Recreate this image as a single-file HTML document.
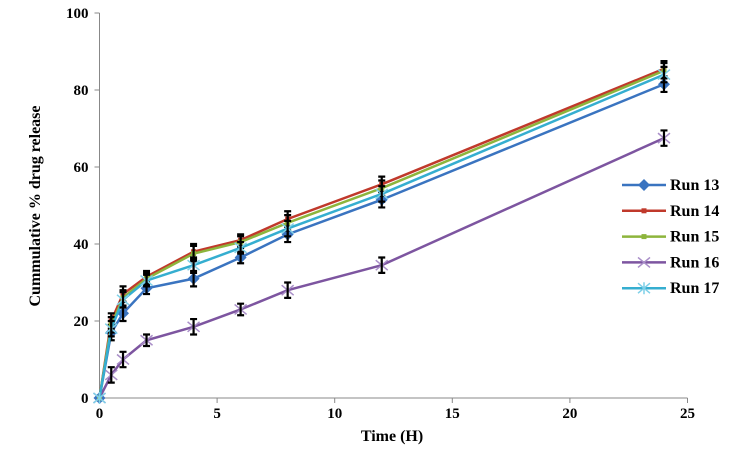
<!DOCTYPE html>
<html><head><meta charset="utf-8"><style>
body{margin:0;background:#fff}
svg text{font-family:"Liberation Serif",serif;font-weight:bold;fill:#000}
</style></head><body>
<svg id="c" width="755" height="450" xmlns="http://www.w3.org/2000/svg"></svg>
<script>
const times=[0,0.5,1,2,4,6,8,12,24];
const run13=[0,17,22,28.5,31,36.5,42.5,51.5,81.5];
const run14=[0,20,27,31.5,38,41,46.5,55.5,85.5];
const run15=[0,19,26,31,37.5,40.5,45.5,54.5,85];
const run16=[0,6,10,15,18.5,23,28,34.5,67.5];
const run17=[0,18,25.5,30.5,34.5,39,44,53,84];
const errs=[0,2,2,1.5,2,1.5,2,2,2];
const seriesNames=["Run 13","Run 14","Run 15","Run 16","Run 17"];
const xTicks=[0,5,10,15,20,25];
const yTicks=[0,20,40,60,80,100];
const svg=document.getElementById('c');const NS="http://www.w3.org/2000/svg";
const X=v=>99.5+v*23.52, Y=v=>398-v*3.85;
function mk(t,a,p){const e=document.createElementNS(NS,t);for(const k in a)e.setAttribute(k,a[k]);(p||svg).appendChild(e);return e;}
let e=mk('line',{x1:X(0),y1:Y(0),x2:X(0),y2:Y(100),stroke:'#888'});

e=mk('line',{x1:X(0),y1:Y(0),x2:X(25),y2:Y(0),stroke:'#888'});

yTicks.forEach(v=>{mk('line',{x1:X(0)-5,x2:X(0),y1:Y(v),y2:Y(v),stroke:'#888'});
 const t=mk('text',{x:X(0)-11,y:Y(v)+5,'text-anchor':'end','font-size':15});t.textContent=v;
 });
xTicks.forEach(v=>{mk('line',{x1:X(v),x2:X(v),y1:Y(0),y2:Y(0)+5,stroke:'#888'});
 const t=mk('text',{x:X(v),y:Y(0)+20,'text-anchor':'middle','font-size':15});t.textContent=v;
 });
e=mk('text',{x:392,y:441,'text-anchor':'middle','font-size':16});e.textContent='Time (H)';

e=mk('text',{x:0,y:0,transform:'translate(40,206) rotate(-90)','text-anchor':'middle','font-size':16});e.textContent='Cummulative % drug release';

const data=[run13,run14,run15,run16,run17];
const colors=['#3a74c0','#c0392b','#8db53c','#7d55a0','#35aed0'];
function marker(i,x,y,g){const c=colors[i];
 if(i==0)mk('path',{d:`M${x} ${y-6}L${x+6} ${y}L${x} ${y+6}L${x-6} ${y}Z`,fill:c},g);
 else if(i==1||i==2)mk('rect',{x:x-2.5,y:y-2.5,width:5,height:5,fill:c},g);
 else if(i==3)mk('path',{d:`M${x-6} ${y-5}L${x+6} ${y+5}M${x-6} ${y+5}L${x+6} ${y-5}`,stroke:'#a98ec8','stroke-width':1.5},g);
 else mk('path',{d:`M${x-6} ${y-5}L${x+6} ${y+5}M${x-6} ${y+5}L${x+6} ${y-5}M${x} ${y-6}L${x} ${y+6}`,stroke:'#7fd0e8','stroke-width':1.5},g);}
data.forEach((s,i)=>{const g=mk('g',{});
 
 mk('polyline',{points:s.map((v,j)=>X(times[j])+','+Y(v)).join(' '),fill:'none',stroke:colors[i],'stroke-width':2.5},g);
 s.forEach((v,j)=>marker(i,X(times[j]),Y(v),g));
 s.forEach((v,j)=>{if(!errs[j])return;const x=X(times[j]),a=Y(v+errs[j]),b=Y(v-errs[j]);
  mk('path',{d:`M${x} ${a}L${x} ${b}M${x-3.5} ${a}L${x+3.5} ${a}M${x-3.5} ${b}L${x+3.5} ${b}`,stroke:'#000','stroke-width':2.2},g);});
});
seriesNames.forEach((n,i)=>{const y=185+i*25.8;const g=mk('g',{});
 
 mk('line',{x1:622,x2:666,y1:y,y2:y,stroke:colors[i],'stroke-width':2.5},g);marker(i,644,y,g);
 const t=mk('text',{x:670,y:y+5,'font-size':16},g);t.textContent=n;});
</script>
</body></html>
